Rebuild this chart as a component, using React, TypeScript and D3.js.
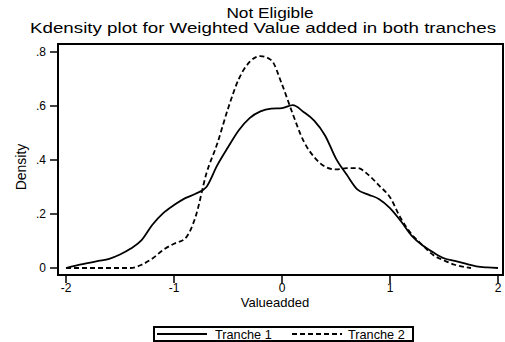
import React from "react";
import * as d3 from "d3";

// density estimates
const xs1 = [-2.0, -1.9, -1.8, -1.7, -1.6, -1.5, -1.4, -1.3, -1.2, -1.1, -1.0, -0.9, -0.8, -0.7, -0.6, -0.5, -0.4, -0.3, -0.2, -0.1, 0.0, 0.1, 0.2, 0.3, 0.4, 0.5, 0.6, 0.7, 0.8, 0.9, 1.0, 1.1, 1.2, 1.3, 1.4, 1.5, 1.6, 1.7, 1.8, 1.9, 2.0];
const tranche1 = [0.0, 0.01, 0.018, 0.026, 0.034, 0.05, 0.072, 0.103, 0.16, 0.203, 0.233, 0.258, 0.275, 0.3, 0.38, 0.447, 0.51, 0.555, 0.58, 0.59, 0.592, 0.603, 0.578, 0.545, 0.49, 0.405, 0.345, 0.29, 0.272, 0.255, 0.222, 0.174, 0.12, 0.084, 0.058, 0.036, 0.026, 0.016, 0.006, 0.002, 0.0];

const xs2 = [-2.0, -1.9, -1.8, -1.7, -1.6, -1.5, -1.4, -1.3, -1.2, -1.1, -1.0, -0.9, -0.8, -0.7, -0.6, -0.5, -0.4, -0.3, -0.2, -0.1, 0.0, 0.1, 0.2, 0.3, 0.4, 0.5, 0.6, 0.7, 0.8, 0.9, 1.0, 1.1, 1.2, 1.3, 1.4, 1.5, 1.6, 1.7, 1.75];
const tranche2 = [0, 0, 0, 0, 0, 0, 0, 0.012, 0.035, 0.067, 0.09, 0.108, 0.19, 0.35, 0.46, 0.59, 0.7, 0.763, 0.785, 0.77, 0.68, 0.57, 0.47, 0.41, 0.375, 0.365, 0.37, 0.37, 0.345, 0.305, 0.262, 0.184, 0.125, 0.085, 0.048, 0.028, 0.012, 0.003, 0.0];

const xTicks = [-2, -1, 0, 1, 2];
const yTicks = [0, 0.2, 0.4, 0.6, 0.8];
const yTickLabels = ["0", ".2", ".4", ".6", ".8"];

// text widened horizontally, the way the exported graph draws it
function Wide({ x, y, sx, size, anchor = "middle", children }: any) {
  return (
    <text
      transform={`translate(${x},${y}) scale(${sx},1)`}
      textAnchor={anchor}
      fontSize={size}
    >
      {children}
    </text>
  );
}

export default function App() {
  const width = 505;
  const height = 342;
  const frame = { left: 58, right: 503, top: 44, bottom: 275 };

  const x = d3.scaleLinear().domain([-2, 2]).range([66, 498]);
  const y = d3.scaleLinear().domain([0, 0.8]).range([268, 52]);

  const path1 = d3
    .line<number>()
    .x((_, i) => x(xs1[i]))
    .y((d) => y(d))
    .curve(d3.curveMonotoneX)(tranche1);
  const path2 = d3
    .line<number>()
    .x((_, i) => x(xs2[i]))
    .y((d) => y(d))
    .curve(d3.curveMonotoneX)(tranche2);

  const font = "Liberation Sans, Arial, sans-serif";

  return (
    <svg
      width={width}
      height={height}
      style={{ position: "absolute", left: 0, top: 0, background: "white" }}
      fontFamily={font}
    >
      <Wide x={270} y={18} sx={1.19} size={14.5}>Not Eligible</Wide>
      <Wide x={263} y={33} sx={1.25} size={15}>
        Kdensity plot for Weighted Value added in both tranches
      </Wide>

      <rect
        x={frame.left}
        y={frame.top}
        width={frame.right - frame.left}
        height={frame.bottom - frame.top}
        fill="none"
        stroke="black"
        strokeWidth={2}
      />

      {yTicks.map((t, i) => (
        <g key={t}>
          <line x1={50} x2={frame.left} y1={y(t)} y2={y(t)} stroke="black" strokeWidth={1.5} />
          <text x={46} y={y(t)} dy=".35em" textAnchor="end" fontSize={12}>
            {yTickLabels[i]}
          </text>
        </g>
      ))}
      <text
        transform={`translate(26,167) rotate(-90)`}
        textAnchor="middle"
        fontSize={14}
      >
        Density
      </text>

      {xTicks.map((t) => (
        <g key={t}>
          <line x1={x(t)} x2={x(t)} y1={frame.bottom} y2={283} stroke="black" strokeWidth={1.5} />
          <text x={x(t)} y={292} textAnchor="middle" fontSize={12}>
            {t}
          </text>
        </g>
      ))}
      <Wide x={275} y={307} sx={1} size={13}>Valueadded</Wide>

      <path d={path1 ?? ""} fill="none" stroke="black" strokeWidth={1.8} />
      <path d={path2 ?? ""} fill="none" stroke="black" strokeWidth={1.8} strokeDasharray="5,3" />

      <rect x={154} y={327} width={259} height={14} fill="white" stroke="black" strokeWidth={2} />
      <line x1={157} x2={207} y1={334} y2={334} stroke="black" strokeWidth={1.8} />
      <Wide x={215} y={338.5} sx={1.06} size={12} anchor="start">Tranche 1</Wide>
      <line x1={292} x2={342} y1={334} y2={334} stroke="black" strokeWidth={1.8} strokeDasharray="5,3" />
      <Wide x={348} y={338.5} sx={1.06} size={12} anchor="start">Tranche 2</Wide>
    </svg>
  );
}
